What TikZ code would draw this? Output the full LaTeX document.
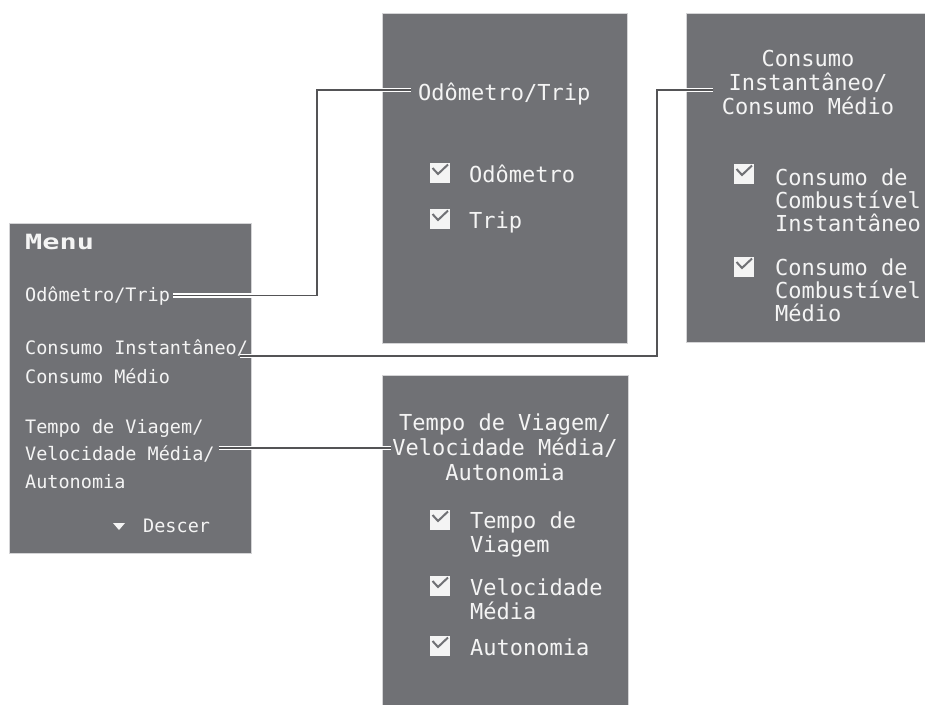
\documentclass[tikz,border=0pt]{standalone}
\usepackage{fontspec}
\usepackage{graphicx}
\setmainfont{DejaVu Sans Mono}
\usetikzlibrary{calc}
\definecolor{panelgray}{RGB}{112,113,117}
\definecolor{panelrim}{RGB}{212,212,214}
\definecolor{linkgray}{RGB}{84,84,86}
\definecolor{lcdwhite}{RGB}{244,244,244}

\begin{document}
\begin{tikzpicture}[x=1pt,y=-1pt,
  panel/.style={fill=panelgray, draw=panelrim, line width=1.2pt, anchor=north west, inner sep=0pt},
  big/.style={font=\fontsize{22}{26}\selectfont, text=lcdwhite, inner sep=0pt},
  small/.style={font=\fontsize{18.5}{22}\selectfont, text=lcdwhite, inner sep=0pt},
  link/.style={draw=white, double=linkgray, double distance=1.6pt, line width=1.5pt},
  checkbox/.pic={
    \fill[lcdwhite] (-10,-10) rectangle (10,10);
    \draw[panelgray, line width=2pt] (-7.5,-5) -- (-2,1) -- (8,-8.5);
  }]
\useasboundingbox (0,0) rectangle (925,704);

% panels
\node[panel, minimum width=242pt, minimum height=330pt] (menubox) at (9,223) {};
\node[panel, minimum width=245pt, minimum height=330pt] (obox) at (382,13) {};
\node[panel, minimum width=242pt, minimum height=329pt] (cbox) at (686,13) {};
\node[panel, minimum width=246pt, minimum height=335pt] (tbox) at (382,375) {};

% main menu
\node[small, anchor=base west, font=\bfseries\fontsize{21}{24}\selectfont] (m0) at (25,249) {\scalebox{1.36}[1]{Menu}};
\node[small, anchor=base west] (m1) at (25,301) {Odômetro/Trip};
\node[small, anchor=base west] (m2a) at (25,354) {Consumo Instantâneo/};
\node[small, anchor=base west] (m2b) at (25,383) {Consumo Médio};
\node[small, anchor=base west] (m3a) at (25,433) {Tempo de Viagem/};
\node[small, anchor=base west] (m3b) at (25,460) {Velocidade Média/};
\node[small, anchor=base west] (m3c) at (25,488) {Autonomia};
\fill[lcdwhite] (113,523) -- (125,523) -- (119,530) -- cycle;
\node[small, anchor=base west] (m4) at (143,532) {Descer};

% odometer / trip panel
\node[big, anchor=base west] (o0) at (418,100) {Odômetro/Trip};
\pic at (440,173) {checkbox};
\node[big, anchor=base west] (o1) at (469,182) {Odômetro};
\pic at (440,219) {checkbox};
\node[big, anchor=base west] (o2) at (469,228) {Trip};

% consumption panel
\node[big, anchor=base] (c0a) at (808,66) {Consumo};
\node[big, anchor=base] (c0b) at (808,90) {Instantâneo/};
\node[big, anchor=base] (c0c) at (808,114) {Consumo Médio};
\pic at (744,174) {checkbox};
\node[big, anchor=base west] (c1a) at (775,185) {Consumo de};
\node[big, anchor=base west] (c1b) at (775,208) {Combustível};
\node[big, anchor=base west] (c1c) at (775,231) {Instantâneo};
\pic at (744,267) {checkbox};
\node[big, anchor=base west] (c2a) at (775,275) {Consumo de};
\node[big, anchor=base west] (c2b) at (775,298) {Combustível};
\node[big, anchor=base west] (c2c) at (775,321) {Médio};

% trip time / speed / range panel
\node[big, anchor=base] (t0a) at (505,430) {Tempo de Viagem/};
\node[big, anchor=base] (t0b) at (505,455) {Velocidade Média/};
\node[big, anchor=base] (t0c) at (505,480) {Autonomia};
\pic at (440,520) {checkbox};
\node[big, anchor=base west] (t1a) at (470,528) {Tempo de};
\node[big, anchor=base west] (t1b) at (470,552) {Viagem};
\pic at (440,586) {checkbox};
\node[big, anchor=base west] (t2a) at (470,595) {Velocidade};
\node[big, anchor=base west] (t2b) at (470,619) {Média};
\pic at (440,646) {checkbox};
\node[big, anchor=base west] (t3a) at (470,655) {Autonomia};

% connectors
\coordinate (k1) at (317,90);
\coordinate (k2) at (657,90);
\coordinate (k3) at ($(m3a.base)!0.5!(m3b.base)$);
\draw[link] ($(m1.east)+(3,0)$) -| (k1) -- ($(k1 -| obox.west)+(29,0)$);
\draw[link] ($(m2a.south east)+(-8,0)$) -| (k2) -- ($(k2 -| cbox.west)+(27,0)$);
\draw[link] ($(k3 -| m3b.east)+(4,1.5)$) -- ($(k3 -| tbox.west)+(9,1.5)$);
\end{tikzpicture}
\end{document}
